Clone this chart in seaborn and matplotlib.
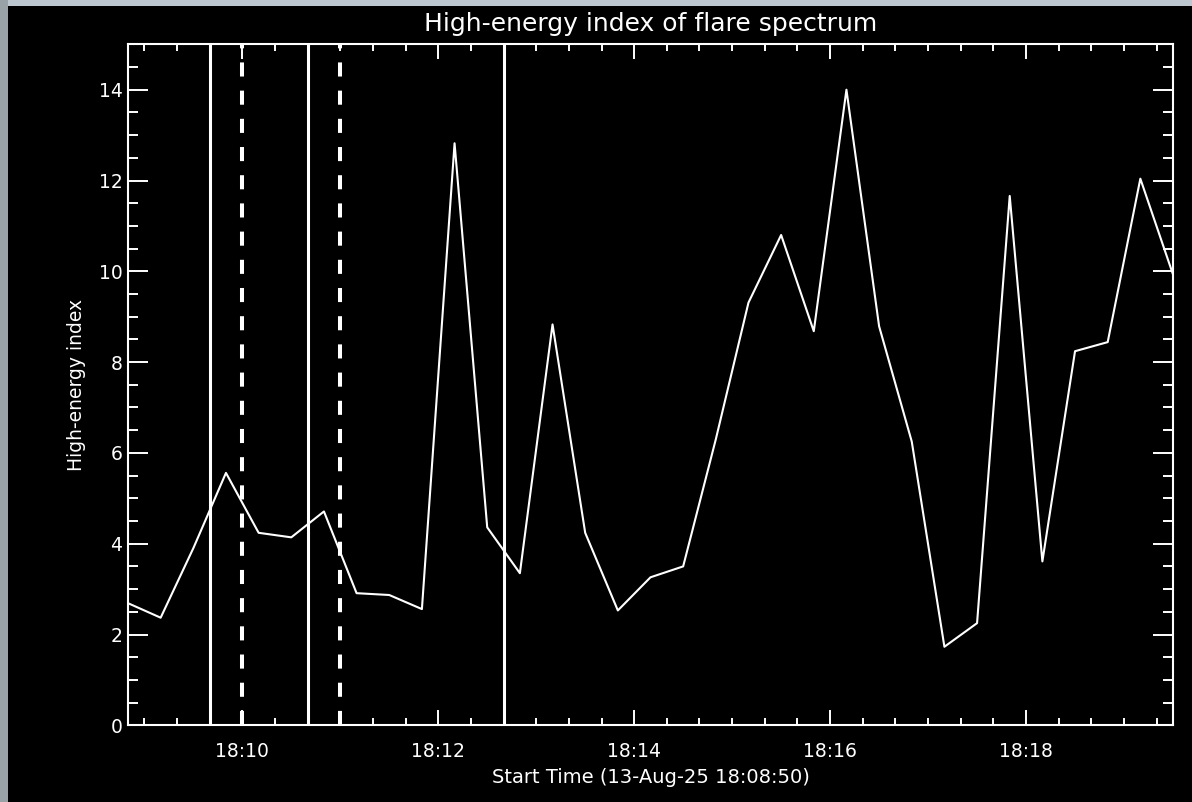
import matplotlib
matplotlib.use("Agg")
import matplotlib.pyplot as plt
import seaborn as sns
import pandas as pd
import numpy as np
from matplotlib.patches import Rectangle

# ---- data (seconds after 18:08:50) ----
time_s = [0, 20, 40, 60, 80, 100, 120, 140, 160, 180, 200, 220, 240, 260, 280, 300,
          320, 340, 360, 380, 400, 420, 440, 460, 480, 500, 520, 540, 560, 580, 600, 620, 640]
index_vals = [2.69, 2.37, 3.9, 5.56, 4.24, 4.14, 4.71, 2.91, 2.87, 2.56, 12.82, 4.36,
              3.35, 8.83, 4.24, 2.53, 3.26, 3.50, 6.3, 9.31, 10.8, 8.68, 14.0, 8.79,
              6.25, 1.73, 2.25, 11.66, 3.61, 8.24, 8.44, 12.04, 9.93]
solid_lines_s = [50, 110, 230]      # 18:09:40, 18:10:40, 18:12:40
dashed_lines_s = [70, 130]          # 18:10:00, 18:11:00
xtick_s = [70, 190, 310, 430, 550]
xtick_labels = ["18:10", "18:12", "18:14", "18:16", "18:18"]
ytick_vals = [0, 2, 4, 6, 8, 10, 12, 14]

df = pd.DataFrame({"t": time_s, "idx": index_vals})

sns.set_theme(style="dark")
plt.rcParams["font.family"] = ["DejaVu Sans"]
plt.rcParams["text.color"] = "white"

fig = plt.figure(figsize=(11.92, 8.02), dpi=100, facecolor="black")
ax = fig.add_axes([128/1192, 1-725.3/802, (1173-128)/1192, (725.3-44.3)/802])
ax.set_facecolor("black")

# background photo strips at top and left edges
fig.add_artist(Rectangle((0, 1-6/802), 1, 6/802, transform=fig.transFigure,
                         facecolor="#bcc7cf", edgecolor="none", zorder=0))
fig.add_artist(Rectangle((0, 0), 8/1192, 1, transform=fig.transFigure,
                         facecolor="#98a2a7", edgecolor="none", zorder=0))

sns.lineplot(data=df, x="t", y="idx", ax=ax, color="white", linewidth=1.5,
             estimator=None, sort=False)

for s in solid_lines_s:
    ax.axvline(s, color="white", linewidth=2.2, zorder=3)
for s in dashed_lines_s:
    ax.axvline(s, color="white", linewidth=2.9, linestyle=(0, (3.5, 3.5)), zorder=3)

ax.set_xlim(0, 640)
ax.set_ylim(0, 15)
ax.set_xticks(xtick_s)
ax.set_xticklabels(xtick_labels)
ax.set_xticks(np.arange(10, 640, 20), minor=True)
ax.set_yticks(ytick_vals)
ax.set_yticklabels([str(v) for v in ytick_vals])
ax.set_yticks(np.arange(0, 15.01, 0.5), minor=True)

ax.grid(False)
for sp in ax.spines.values():
    sp.set_color("white")
    sp.set_linewidth(1.5)
    sp.set_visible(True)

ax.tick_params(axis="both", which="both", direction="in", colors="white",
               top=True, right=True, bottom=True, left=True, width=1.4)
ax.tick_params(axis="y", which="major", length=14.5, pad=4, labelsize=13.5)
ax.tick_params(axis="y", which="minor", length=7.5)
ax.tick_params(axis="x", which="major", length=10.5, pad=12, labelsize=13.5)
ax.tick_params(axis="x", which="minor", length=5)
for lab in ax.get_xticklabels() + ax.get_yticklabels():
    lab.set_color("white")

ax.set_xlabel("Start Time (13-Aug-25 18:08:50)", color="white", fontsize=14, labelpad=5)
ax.set_ylabel("High-energy index", color="white", fontsize=13.5, labelpad=9)
ax.set_title("High-energy index of flare spectrum", color="white", fontsize=18, pad=9.5)

fig.savefig("out.png", dpi=100, facecolor="black")
